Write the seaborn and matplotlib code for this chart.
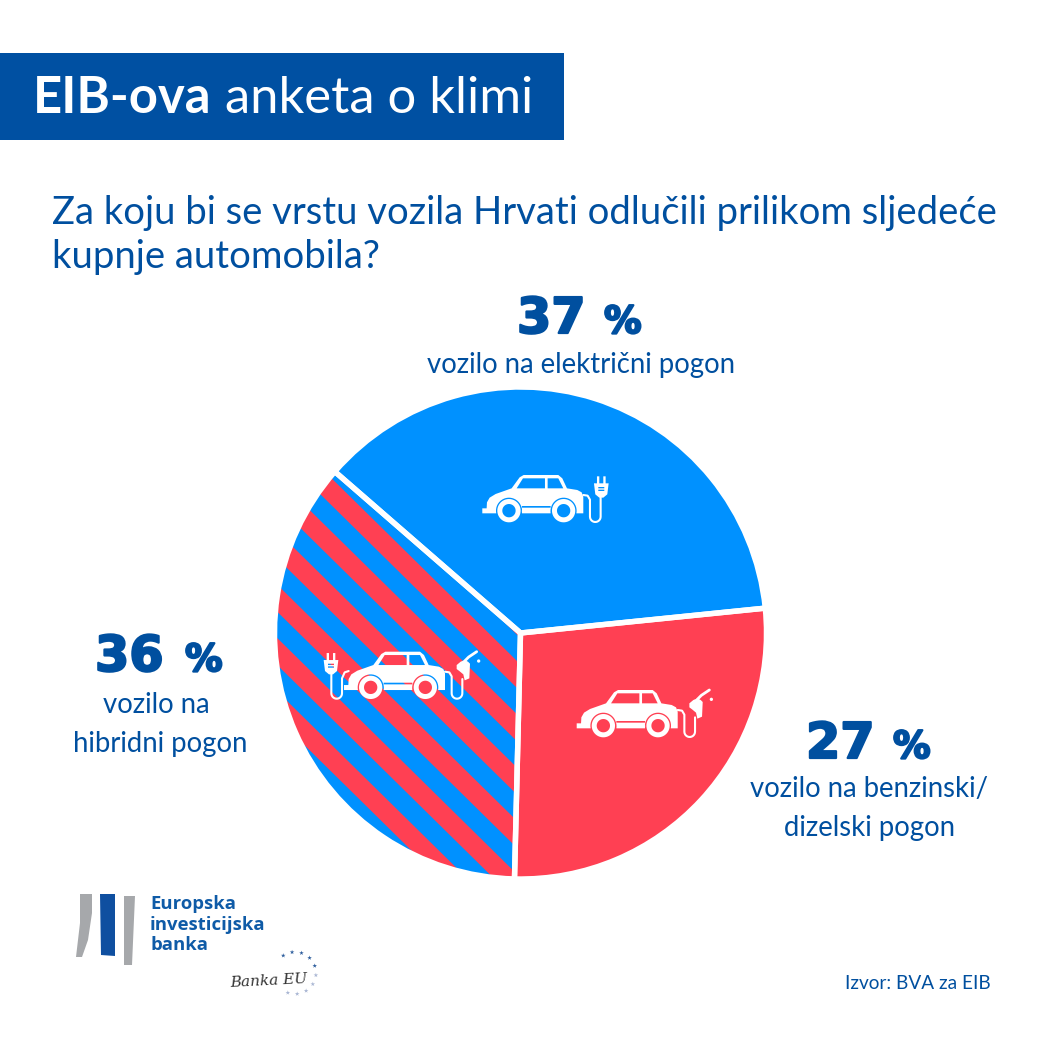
import numpy as np
import matplotlib
matplotlib.use("Agg")
import matplotlib.pyplot as plt
import matplotlib.patheffects as pe
from matplotlib.path import Path
from matplotlib.patches import PathPatch, Rectangle, Polygon
import seaborn as sns

# ---- data ----
categories = ["vozilo na električni pogon", "vozilo na benzinski/\ndizelski pogon", "vozilo na\nhibridni pogon"]
values = [37, 27, 36]
value_labels = ["37", "27", "36"]
title_lines = ["Za koju bi se vrstu vozila Hrvati odlučili prilikom sljedeće", "kupnje automobila?"]
banner_bold = "EIB-ova"
banner_rest = "anketa o klimi"
logo_lines = ["Europska", "investicijska", "banka"]
source = "Izvor: BVA za EIB"

BLUE, RED = "#0091FF", "#FF4053"
NAVY = "#004F9F"
BANNER = "#0050A2"
palette = sns.color_palette([BLUE, RED, BLUE])

sns.set_theme(style="white")
MAIN = "Lato"

fig = plt.figure(figsize=(10.42, 10.42), dpi=100, facecolor="white")
ax = fig.add_axes([0, 0, 1, 1])
H = 1042
Y = lambda py: H - py

# ---- pie ----
CX, CY, R = 520.5, Y(633), 246
pie_kw = dict(center=(CX, CY), radius=R, startangle=139.0, counterclock=False, frame=True)
wedges, _ = ax.pie(values, colors=palette, wedgeprops=dict(linewidth=0), **pie_kw)
hybrid = wedges[2]

# diagonal stripes clipped to the hybrid wedge
SLOPE = 0.985
for k in range(-1, 11):
    y0 = 660 + 53.3 * k
    y1 = y0 + 27
    xs = np.array([150, 700, 700, 150])
    ys = np.array([y0 + SLOPE * (150 - 516), y0 + SLOPE * (700 - 516),
                   y1 + SLOPE * (700 - 516), y1 + SLOPE * (150 - 516)])
    st = Polygon(np.c_[xs, H - ys], closed=True, facecolor=RED, edgecolor="none", zorder=2)
    ax.add_patch(st)
    st.set_clip_path(hybrid)

ax.pie(values, colors=palette,
       wedgeprops=dict(fill=False, edgecolor="white", linewidth=3.9, zorder=3), **pie_kw)

ax.set_xlim(0, H)
ax.set_ylim(0, H)
ax.set_aspect("equal")
ax.axis("off")


# ---- icons (units: 1/3 px, v downward) ----
def arc(cx, cy, r, a0, a1, n=24):
    t = np.radians(np.linspace(a0, a1, n))
    return np.c_[cx + r * np.cos(t), cy + r * np.sin(t)]


def ring(cx, cy, r0, r1):
    return [arc(cx, cy, r0, 0, 360, 48), arc(cx, cy, r1, 360, 0, 48)]


def draw(polys, ox, oy):
    vs, cs = [], []
    for p in polys:
        vs.extend(p.tolist() + [p[0].tolist()])
        cs.extend([Path.MOVETO] + [Path.LINETO] * (len(p) - 1) + [Path.CLOSEPOLY])
    vs = np.array(vs)
    pts = np.c_[ox + vs[:, 0] / 3, H - (oy + vs[:, 1] / 3)]
    ax.add_patch(PathPatch(Path(pts, cs), facecolor="white", edgecolor="none", zorder=6))


def line(pts, ox, oy, lw=1.5):
    p = np.array(pts, float)
    ax.plot(ox + p[:, 0] / 3, H - (oy + p[:, 1] / 3), color="white", lw=lw, zorder=6,
            solid_capstyle="round", solid_joinstyle="round")


def car(ox, oy):
    w1, w2 = (80, 107), (244, 107)
    top = np.array([[0, 100], [13, 100], [14, 82], [22, 68], [40, 57], [88, 40], [112, 7], [124, 0], [228, 0],
                    [240, 10], [254, 40], [285, 45], [298, 52], [303, 65], [303, 115], [286, 115]], float)
    arch2 = arc(w2[0], w2[1], 39, 12, -192, 24)
    sill = np.array([[205, 93], [119, 93]], float)
    arch1 = arc(w1[0], w1[1], 39, 12, -192, 24)
    bottom = np.array([[41, 115], [0, 115]], float)
    body = np.vstack([top, arch2, sill, arch1, bottom])
    win1 = np.array([[103, 40], [122, 10], [188, 10], [188, 40]], float)[::-1]
    win2 = np.array([[196, 10], [228, 10], [243, 40], [196, 40]], float)[::-1]
    sillbar = np.array([[119, 98], [205, 98], [205, 115], [119, 115]], float)
    polys = [body, win1, win2, sillbar]
    polys += ring(*w1, 35, 20) + ring(*w2, 35, 20)
    draw(polys, ox, oy)


def plug(ox, oy, u, v):
    polys = [np.array([[-22, 25], [22, 25], [18, 58], [6, 68], [-6, 68], [-18, 58]], float),
             np.array([[-13, 4], [-6, 4], [-6, 25], [-13, 25]], float),
             np.array([[6, 4], [13, 4], [13, 25], [6, 25]], float),
             np.array([[-9, 36], [9, 36], [9, 40], [-9, 40]], float)[::-1],
             np.array([[-9, 44], [9, 44], [9, 48], [-9, 48]], float)[::-1]]
    draw([p + [u, v] for p in polys], ox, oy)


def pump(ox, oy, u, v):
    polys = [np.array([[-14, 18], [-2, 8], [10, 3], [20, 8], [26, 14], [24, 58], [10, 64], [6, 46],
                       [-6, 36], [-14, 30]], float)]
    draw([p + [u, v] for p in polys], ox, oy)
    line(np.array([[10, 6], [22, -6], [46, -22]]) + [u, v], ox, oy, 2.0)
    draw([arc(52 + u, 6 + v, 5, 0, 360, 16)], ox, oy)


def cord_right(ox, oy, end_top):
    pts = np.vstack([[[303, 60], [316, 62], [323, 74], [323, 125]],
                     arc(339, 125, 16, 180, 0, 14), [[355, end_top]]])
    line(pts, ox, oy)


# electric car
car(482.3, 475)
cord_right(482.3, 475, 68)
plug(482.3, 475, 357, 0)

# petrol car
car(576.7, 690)
cord_right(576.7, 690, 82)
pump(576.7, 690, 352, 22)

# hybrid car
car(344, 651.7)
cord_right(344, 651.7, 82)
pump(344, 651.7, 352, 22)
plug(344, 651.7, -39, 0)
pts = np.vstack([[[-38, 60], [-38, 125]], arc(-22, 125, 16, 180, 0, 14), [[-6, 80], [2, 62], [14, 58]]])
line(pts, 344, 651.7)

# ---- header ----
ax.add_patch(Rectangle((0, Y(140)), 564, 87, facecolor=BANNER, edgecolor="none"))
ax.text(33, Y(113), banner_bold, color="white", fontsize=36.5, fontweight="bold", family=MAIN, va="baseline")
ax.text(225, Y(113), banner_rest, color="white", fontsize=36.5, family=MAIN, va="baseline")
ax.text(52, Y(224), title_lines[0], color=NAVY, fontsize=27.5, family=MAIN, va="baseline")
ax.text(52, Y(268), title_lines[1], color=NAVY, fontsize=27.5, family=MAIN, va="baseline")

# ---- labels ----
heavy = [pe.withStroke(linewidth=1.6, foreground=NAVY)]


def pct(x, base, text):
    ax.text(x, Y(base), text, color=NAVY, fontsize=35.5, fontweight="bold", family="DejaVu Sans",
            va="baseline", ha="left", path_effects=heavy)


def pct_sign(x, base):
    ax.text(x, Y(base), "%", color=NAVY, fontsize=27, fontweight="bold", family="DejaVu Sans",
            va="baseline", ha="left", path_effects=heavy)


pct(517, 333, value_labels[0]); pct_sign(604, 333)
pct(806, 758, value_labels[1]); pct_sign(893, 758)
pct(95, 671, value_labels[2]); pct_sign(185, 671)

LBL = dict(color=NAVY, fontsize=19.8, family=MAIN, ha="center", va="baseline")
ax.text(581, Y(373), categories[0], **LBL)
l1, l2 = categories[1].split("\n")
ax.text(869, Y(797), l1, **LBL)
ax.text(869, Y(836), l2, **LBL)
l1, l2 = categories[2].split("\n")
ax.text(156, Y(713), l1, **LBL)
ax.text(160, Y(752), l2, **LBL)

# ---- logo ----
GREY = "#A6A8AB"
ax.add_patch(Polygon([(80, Y(894)), (92, Y(894)), (92, Y(913)), (88, Y(940)), (82, Y(957)), (76, Y(957)), (80, Y(923))],
                     closed=True, fc=GREY, ec="none"))
ax.add_patch(Polygon([(100, Y(894)), (115, Y(894)), (115, Y(956)), (101, Y(955))], closed=True, fc="#0F4FA0", ec="none"))
ax.add_patch(Polygon([(124, Y(896)), (135, Y(896)), (132, Y(965)), (124, Y(965))], closed=True, fc=GREY, ec="none"))
for i, t in enumerate(logo_lines):
    ax.text(150, Y(909 + 20.5 * i), t, color="#0F5BA7", fontsize=13.3, fontweight="bold", family="Open Sans", va="baseline")
ax.text(230, Y(987), "Banka EU", color="#333333", fontsize=11, family="DejaVu Serif", style="italic",
        va="baseline", rotation=3)
ang = np.radians(np.arange(-110, 150, 26))
ax.scatter(295 + 21 * np.cos(ang), Y(973) + 21 * np.sin(ang), marker="*", s=12,
           color=["#2f5f9e" if a > 0 else "#a9b6d3" for a in ang], linewidths=0)

ax.text(991, Y(989), source, color=NAVY, fontsize=13.7, family=MAIN, ha="right", va="baseline")

fig.savefig("out.png", dpi=100)
